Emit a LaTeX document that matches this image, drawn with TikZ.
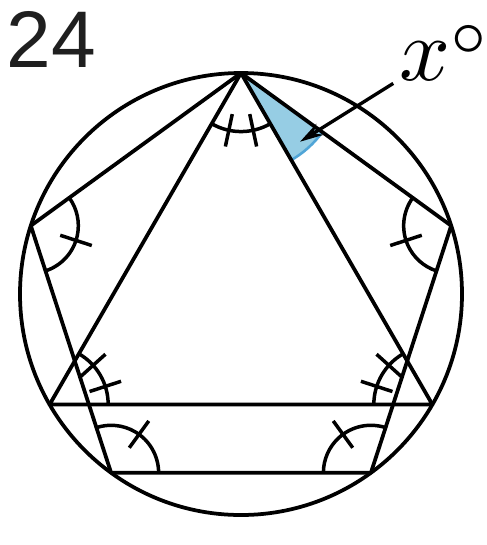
\documentclass[tikz,border=0pt]{standalone}
\usepackage{fontspec}
\newfontfamily\numfont{Liberation Sans}
\usetikzlibrary{arrows.meta}
\definecolor{wedgeblue}{RGB}{150,205,228}
\definecolor{wedgeedge}{RGB}{80,165,215}

\begin{document}
\begin{tikzpicture}[scale=3,line width=1.45pt,
    markarc/.style={line width=1.35pt},
    tickmark/.style={line width=1.35pt}]
      \useasboundingbox (-1.0905,-1.1357) rectangle (1.1131,1.3303);
      \coordinate (zero) at (0,0);

      %%%% corners on the circle
      \foreach \a [count=\i] in {90,162,234,306,18}
        \coordinate (P\i) at (\a:1);
      \foreach \a [count=\i] in {90,210,330}
        \coordinate (T\i) at (\a:1);

      %%%%%%%%%%%%%%%%%%%%%%%%%%%%%%%%%%%%%%%%%%%%%%%%%%%%%%%%%%%%%%%%%%%%%%%%%%%
      %%%%  shaded angle x
      \fill[wedgeblue] (T1) -- ([shift={(-60:0.455)}]T1) arc (-60:-36:0.455) -- cycle;
      \draw[wedgeedge,line width=1pt] ([shift={(-60:0.455)}]T1) arc (-60:-36:0.455);

      \draw (zero) circle (1cm);
      \draw[line join=round] (P1) -- (P2) -- (P3) -- (P4) -- (P5) -- cycle;
      \draw[line join=round] (T1) -- (T2) -- (T3) -- cycle;

      %%%%%%%%%%%%%%%%%%%%%%%%%%%%%%%%%%%%%%%%%%%%%%%%%%%%%%%%%%%%%%%%%%%%%%%%%%%
      %%%%  pentagon angles, one tick
      \foreach \a/\p in {162/P2,234/P3,306/P4,18/P5}
      {\pgfmathsetmacro\m{\a + 180}
       \draw[markarc] ([shift={({\m - 54}:0.215)}]\p) arc ({\m - 54}:{\m + 54}:0.215);
       \draw[tickmark] ([shift={(\m:0.14)}]\p) -- ([shift={(\m:0.29)}]\p);
      };

      %%%%  triangle angles, two ticks
      \foreach \a/\p in {90/T1,210/T2,330/T3}
      {\pgfmathsetmacro\m{\a + 180}
       \draw[markarc] ([shift={({\m - 30}:0.265)}]\p) arc ({\m - 30}:{\m + 30}:0.265);
       \foreach \d in {-12,12}
        {\draw[tickmark] ([shift={({\m + \d}:0.19)}]\p) -- ([shift={({\m + \d}:0.34)}]\p);
        }};

      %%%%  labels
      \node[anchor=base west,inner sep=0pt,text=black!88,
        font=\numfont\fontsize{31}{31}\selectfont] (num) at (-1.068,1.027) {24};
      \node[anchor=base west,inner sep=0pt,scale=3.45] (xlabel) at (0.688,0.968)
        {$x^{\raisebox{-0.75pt}{$\scriptstyle\circ$}}$};
      \coordinate (tail) at (0.689,0.953);
      \coordinate (tip) at (0.267,0.689);
      \draw[line width=1.3pt,-{Stealth[length=9pt,width=5pt]}] (tail) -- (tip);
\end{tikzpicture}
\end{document}
